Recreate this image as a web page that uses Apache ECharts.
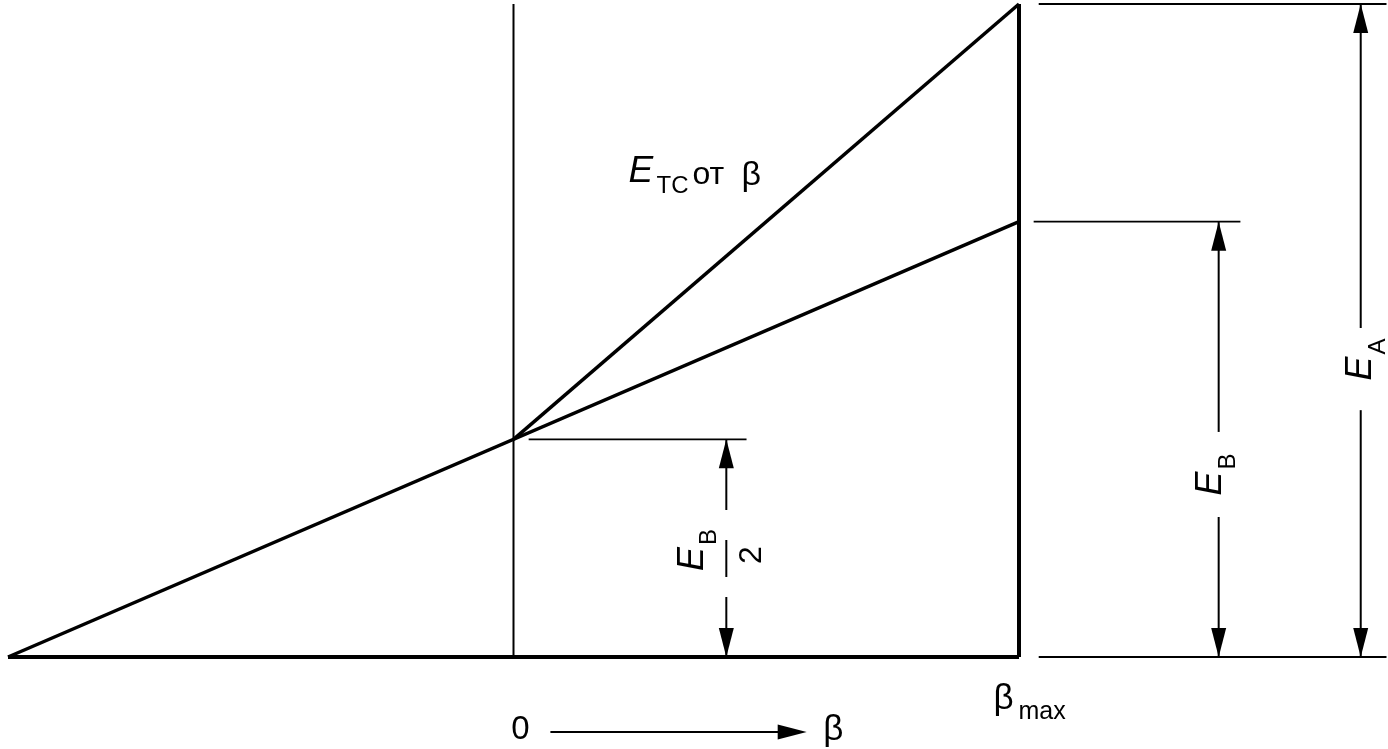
<!DOCTYPE html>
<html><head><meta charset="utf-8">
<script src="https://cdn.jsdelivr.net/npm/echarts@6/dist/echarts.min.js"></script>
<style>html,body{margin:0;padding:0;background:#fff}#c{width:1388px;height:749px}</style>
</head><body><div id="c"></div>
<script>
// ---- Data: β in units of βmax, E in units of E_B ----
const betaPoints = [-1, 0, 1];              // -βmax, 0, βmax
const E_B = 1;
const E_A = 1.5;
const E_B_half = 0.5;
const lowerLine = [[-1, 0], [1, 1]];        // E_B/2·(1+β)
const tcLine = [[0, 0.5], [1, 1.5]];        // E_TC от β
const baseLine = [[-1, 0], [1, 0]];
const maxLine = [[1, 0], [1, 1.5]];
const zeroLine = [[0, 0], [0, 1.5]];
const tickLabels = ['0', 'β', 'β', 'max'];
const curveLabel = ['E', 'TC', 'от', 'β'];

const FONT = '"Liberation Sans", Arial, sans-serif';
const chart = echarts.init(document.getElementById('c'));

function seg(a, b, w) {
  return { type: 'line', shape: { x1: a[0], y1: a[1], x2: b[0], y2: b[1] },
           style: { stroke: '#000', lineWidth: w } };
}
function head(tip, from) {
  const dx = tip[0] - from[0], dy = tip[1] - from[1];
  const L = Math.hypot(dx, dy) || 1;
  const ux = dx / L, uy = dy / L, px = -uy, py = ux;
  const len = 29, hw = 7.5;
  return { type: 'polygon', shape: { points: [
    [tip[0], tip[1]],
    [tip[0] - ux * len + px * hw, tip[1] - uy * len + py * hw],
    [tip[0] - ux * len - px * hw, tip[1] - uy * len - py * hw]] },
    style: { fill: '#000' } };
}
function txt(x, y, text, size, opts) {
  opts = opts || {};
  return { type: 'text', x: x, y: y, style: {
    text: text, fill: '#000', fontFamily: FONT, fontSize: size,
    fontStyle: opts.italic ? 'italic' : 'normal',
    align: opts.align || 'left', verticalAlign: 'middle' } };
}
function rotLabel(p, sub, extra) {
  const children = [txt(0, 0, 'E', 36, { italic: true, align: 'center' }),
                    txt(22, 17, sub, 24, { align: 'center' })];
  if (extra) children.push(txt(extra.x, extra.y, extra.text, 32, { align: 'center' }));
  return { type: 'group', x: p[0], y: p[1], rotation: Math.PI / 2, children: children };
}
function dimension(api, x, top, gapHi, gapLo, w) {
  const c = api.coord.bind(api);
  const a = c([x, top]), g1 = c([x, gapHi]), g2 = c([x, gapLo]), b = c([x, 0]);
  return [seg(a, g1, w), seg(g2, b, w), head(a, g1), head(b, g2)];
}

function renderAnnotations(params, api) {
  const c = api.coord.bind(api);
  const thin = 1.8;
  const els = [];
  // extension lines
  els.push(seg(c([1.039, E_A]), c([1.727, E_A]), thin));
  els.push(seg(c([1.039, 0]), c([1.727, 0]), thin));
  els.push(seg(c([1.029, E_B]), c([1.438, E_B]), thin));
  els.push(seg(c([0.030, E_B_half]), c([0.461, E_B_half]), thin));
  // dimension arrows
  els.push(...dimension(api, 1.676, E_A, 0.756, 0.567, 2));
  els.push(...dimension(api, 1.395, E_B, 0.517, 0.3216, 2));
  els.push(...dimension(api, 0.421, E_B_half, 0.3377, 0.1378, 2));
  els.push(seg(c([0.421, 0.2688]), c([0.421, 0.1838]), 2));   // fraction bar
  // β direction arrow
  const s = c([0.073, -0.1723]), e = c([0.580, -0.1723]);
  els.push(seg(s, [e[0] - 20, e[1]], 2), head(e, s));
  // tick labels
  const p0 = c([0.0138, -0.1677]);
  els.push(txt(p0[0], p0[1], tickLabels[0], 33, { align: 'center' }));
  const pb = c([0.613, -0.1677]);
  els.push(txt(pb[0], pb[1], tickLabels[1], 35));
  const pm = c([0.9496, -0.0965]);
  els.push(txt(pm[0], pm[1], tickLabels[2], 35));
  els.push(txt(pm[0] + 25, pm[1] + 13, tickLabels[3], 25));
  // curve label
  const pl = c([0.2275, 1.115]);
  els.push(txt(pl[0], pl[1], curveLabel[0], 37, { italic: true }));
  els.push(txt(pl[0] + 28, pl[1] + 15, curveLabel[1], 24));
  els.push(txt(pl[0] + 64, pl[1] + 4, curveLabel[2], 32));
  els.push(txt(pl[0] + 113, pl[1] + 4, curveLabel[3], 34));
  // rotated dimension labels
  els.push(rotLabel(c([1.6766, 0.6627]), 'A'));
  els.push(rotLabel(c([1.3798, 0.3986]), 'B'));
  els.push(rotLabel(c([0.3546, 0.2251]), 'B', { x: 4, y: 59, text: '2' }));
  return { type: 'group', children: els };
}

function thick(data, w) {
  return { type: 'line', data: data, symbol: 'none', clip: false, silent: true,
           lineStyle: { color: '#000', width: w }, animation: false };
}

chart.setOption({
  backgroundColor: '#fff',
  animation: false,
  grid: { left: 8, right: 369, top: 4, bottom: 92 },
  xAxis: { type: 'value', min: betaPoints[0], max: betaPoints[2], show: false },
  yAxis: { type: 'value', min: 0, max: E_A, show: false },
  series: [
    thick(baseLine, 4),
    thick(lowerLine, 3.5),
    thick(tcLine, 3.5),
    thick(maxLine, 4),
    thick(zeroLine, 2),
    { type: 'custom', renderItem: renderAnnotations, data: [0], clip: false, silent: true, animation: false }
  ]
});
</script>
</body></html>
